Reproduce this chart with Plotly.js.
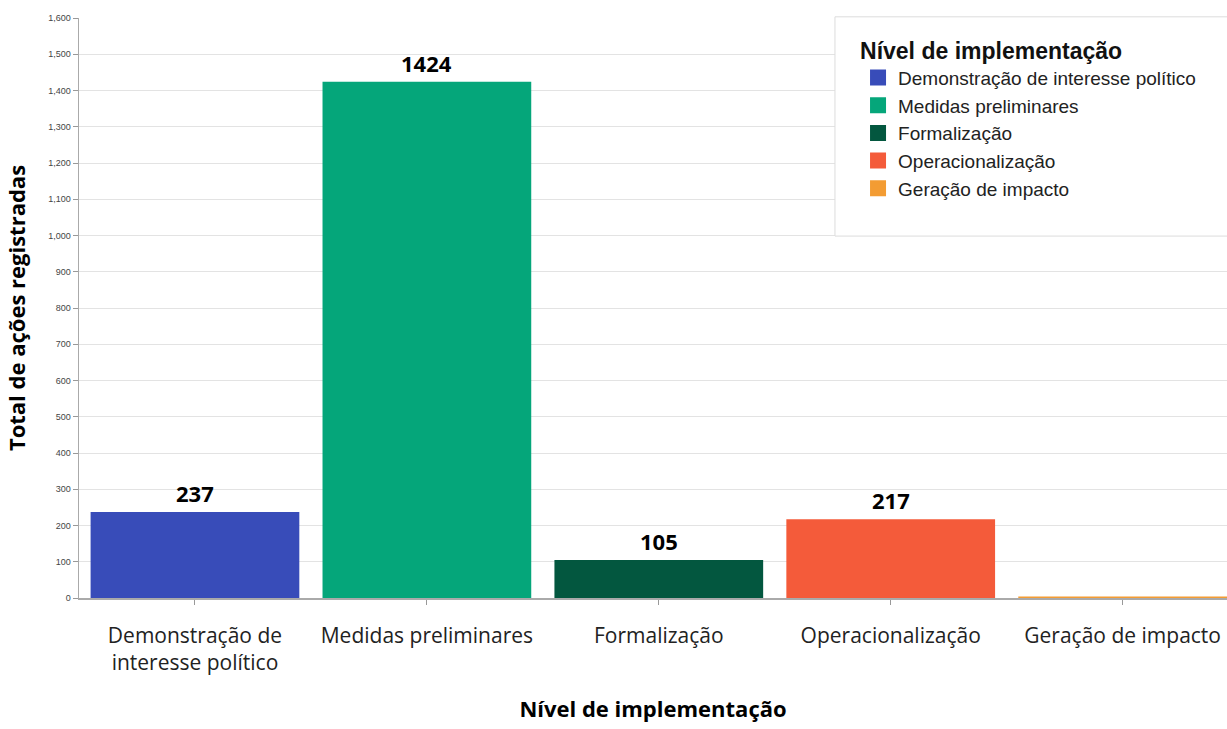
<!DOCTYPE html>
<html>
<head>
<meta charset="utf-8">
<script src="https://cdn.plot.ly/plotly-3.0.1.min.js"></script>
<style>html,body{margin:0;padding:0;background:#fff;}#chart{width:1227px;height:729px;}</style>
</head>
<body>
<div id="chart"></div>
<script>
// ---- data ----
const categories = [
  "Demonstração de interesse político",
  "Medidas preliminares",
  "Formalização",
  "Operacionalização",
  "Geração de impacto"
];
const tickLabels = [
  "Demonstração de<br>interesse político",
  "Medidas preliminares",
  "Formalização",
  "Operacionalização",
  "Geração de impacto"
];
const values = [237, 1424, 105, 217, 4];
const colors = ["#384cb9", "#05a67a", "#03573f", "#f45b3a", "#f39c33"];
const yTicks = [0,100,200,300,400,500,600,700,800,900,1000,1100,1200,1300,1400,1500,1600];

// ---- traces ----
const traces = [];
categories.forEach((c, i) => {
  traces.push({
    type: 'bar', x: [c], y: [values[i]], name: c,
    marker: {color: colors[i], line: {width: 0}},
    showlegend: false, legendgroup: c, hoverinfo: 'x+y'
  });
});
categories.forEach((c, i) => {
  traces.push({
    type: 'scatter', mode: 'markers', x: [null], y: [null], name: c,
    marker: {color: colors[i], symbol: 'square', size: 16},
    legendgroup: c, showlegend: true, hoverinfo: 'skip'
  });
});

const annotations = categories.map((c, i) => values[i] >= 20 ? {
  x: c, y: values[i], xref: 'x', yref: 'y', text: String(values[i]),
  showarrow: false, yanchor: 'bottom', yshift: 2,
  font: {family: 'Open Sans', size: 22, weight: 'bold', color: '#000'}
} : null).filter(a => a);

const layout = {
  width: 1227, height: 729,
  margin: {l: 79, r: 0, t: 18, b: 131, pad: 0},
  paper_bgcolor: '#fff', plot_bgcolor: '#fff',
  barmode: 'overlay', bargap: 0.1,
  showlegend: true,
  legend: {
    x: 0.6786, xanchor: 'left', y: 0.9815, yanchor: 'top',
    bgcolor: 'rgba(0,0,0,0)', borderwidth: 0, tracegroupgap: 0,
    font: {family: 'Liberation Sans', size: 19, color: '#222'},
    title: {text: 'Nível de implementação', font: {family: 'Liberation Sans', size: 23, weight: 'bold', color: '#111'}},
    itemclick: false, itemdoubleclick: false
  },
  shapes: [{
    type: 'rect', xref: 'paper', yref: 'paper', layer: 'above',
    x0: 0.6585, x1: 1.01, y0: 0.624, y1: 1.002,
    fillcolor: '#fff', line: {color: '#dcdcdc', width: 1}
  }],
  xaxis: {
    type: 'category', categoryorder: 'array', categoryarray: categories,
    range: [-0.5, 4.45],
    tickvals: categories, ticktext: tickLabels,
    tickfont: {family: 'Open Sans', size: 21, color: '#222'},
    ticks: 'outside', ticklen: 5, tickcolor: '#999', ticklabelstandoff: 13,
    showline: true, linecolor: '#aaa', linewidth: 1.5,
    showgrid: false, zeroline: false, fixedrange: true,
    title: {text: 'Nível de implementação', standoff: 26,
      font: {family: 'Open Sans', size: 22, weight: 'bold', color: '#000'}}
  },
  yaxis: {
    range: [0, 1600], tickvals: yTicks, tickformat: ',d',
    tickfont: {family: 'Liberation Sans', size: 9, color: '#444'},
    ticks: 'outside', ticklen: 5, tickcolor: '#999',
    showline: true, linecolor: '#aaa', linewidth: 1.5,
    showgrid: true, gridcolor: '#e3e3e3', gridwidth: 1, zeroline: false, fixedrange: true,
    title: {text: 'Total de ações registradas', standoff: 16,
      font: {family: 'Open Sans', size: 22, weight: 'bold', color: '#000'}}
  },
  annotations: annotations
};

Plotly.newPlot('chart', traces, layout, {displayModeBar: false, staticPlot: true});
</script>
</body>
</html>
